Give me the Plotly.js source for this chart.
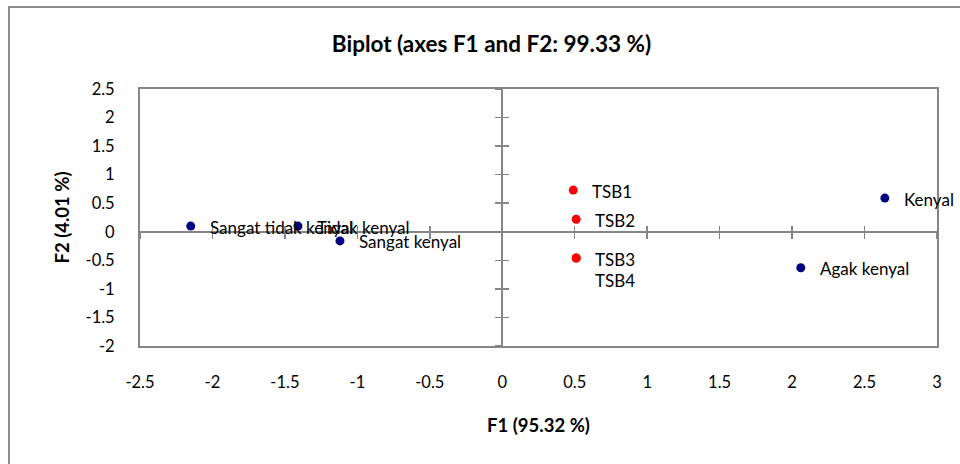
<!DOCTYPE html>
<html>
<head>
<meta charset="utf-8">
<script src="https://cdn.plot.ly/plotly-3.0.1.min.js"></script>
<style>
  html, body { margin: 0; padding: 0; background: #fff; }
  #frame { position: absolute; left: 8px; top: 6px; width: 960px; height: 470px;
           border-left: 2px solid #8c8c8c; border-top: 2px solid #8c8c8c; }
  #chart { position: absolute; left: 0; top: 0; width: 960px; height: 464px; }
</style>
</head>
<body>
<div id="frame"></div>
<div id="chart"></div>
<script>
// Variables (blue) and observations (red)
const varNames = ["Sangat tidak kenyal", "Tidak kenyal", "Sangat kenyal", "Kenyal", "Agak kenyal"];
const varF1 = [-2.15, -1.41, -1.12, 2.64, 2.06];
const varF2 = [0.10, 0.10, -0.16, 0.59, -0.63];

const obsNames = ["TSB1", "TSB2", "TSB3", "TSB4"];
const obsF1 = [0.49, 0.51, 0.51, 0.51];
const obsF2 = [0.73, 0.22, -0.46, -0.46];
// vertical label offset (px) so TSB4 label sits beneath TSB3 (same point)
const obsLabelShift = [0, 0, 0, -21];

const xTicks = [-2.5, -2, -1.5, -1, -0.5, 0, 0.5, 1, 1.5, 2, 2.5, 3];
const xTickText = ["-2.5", "-2", "-1.5", "-1", "-0.5", "0", "0.5", "1", "1.5", "2", "2.5", "3"];
const yTicks = [-2, -1.5, -1, -0.5, 0, 0.5, 1, 1.5, 2, 2.5];
const yTickText = ["-2", "-1.5", "-1", "-0.5", "0", "0.5", "1", "1.5", "2", "2.5"];

const xRange = [-2.5, 3];
const yRange = [-2, 2.5];

const FONT = "Lato, 'Open Sans', sans-serif";
const GRAY = "#868686";

const traces = [
  { x: varF1, y: varF2, type: "scatter", mode: "markers",
    marker: { color: "#000080", size: 9 }, hoverinfo: "text", text: varNames,
    xaxis: "x", yaxis: "y", showlegend: false },
  { x: obsF1, y: obsF2, type: "scatter", mode: "markers",
    marker: { color: "#ff0000", size: 9 }, hoverinfo: "text", text: obsNames,
    xaxis: "x", yaxis: "y", showlegend: false },
  { x: varF1, y: varF2, type: "scatter", mode: "markers", marker: { opacity: 0 },
    hoverinfo: "skip", xaxis: "x2", yaxis: "y2", showlegend: false },
  { x: varF1, y: varF2, type: "scatter", mode: "markers", marker: { opacity: 0 },
    hoverinfo: "skip", xaxis: "x3", yaxis: "y3", showlegend: false }
];

const LBL = 17;
const annotations = [];
varNames.forEach((n, i) => annotations.push({
  x: varF1[i], y: varF2[i], xref: "x", yref: "y", text: n, showarrow: false,
  xanchor: "left", yanchor: "middle", xshift: 17, yshift: -1,
  font: { family: FONT, size: LBL, color: "#000" }
}));
obsNames.forEach((n, i) => annotations.push({
  x: obsF1[i], y: obsF2[i], xref: "x", yref: "y", text: n, showarrow: false,
  xanchor: "left", yanchor: "middle", xshift: 17, yshift: obsLabelShift[i] - 1,
  font: { family: FONT, size: LBL, color: "#000" }
}));

const y0pos = (0 - yRange[0]) / (yRange[1] - yRange[0]);
const x0pos = (0 - xRange[0]) / (xRange[1] - xRange[0]);

const baseX = { range: xRange, tickvals: xTicks, showgrid: false, zeroline: false, fixedrange: true };
const baseY = { range: yRange, tickvals: yTicks, showgrid: false, zeroline: false, fixedrange: true };

const layout = {
  width: 960, height: 464,
  margin: { l: 140, r: 23, t: 89, b: 118 },
  paper_bgcolor: "rgba(0,0,0,0)", plot_bgcolor: "rgba(0,0,0,0)",
  font: { family: FONT, size: 16, color: "#000" },
  title: { text: "<b>Biplot (axes F1 and F2: 99.33 %)</b>", font: { family: FONT, size: 22.5, color: "#000" },
           x: 0.512, xanchor: "center", y: 0.905, yanchor: "middle" },
  showlegend: false,
  xaxis: Object.assign({}, baseX, {
    showline: true, mirror: true, linecolor: GRAY, linewidth: 2, ticks: "",
    ticktext: xTickText, tickfont: { family: FONT, size: 16.5 },
    ticklabelstandoff: 20,
    title: { text: "<b>F1 (95.32 %)</b>", font: { family: FONT, size: 18.5 }, standoff: 28 }
  }),
  yaxis: Object.assign({}, baseY, {
    showline: true, mirror: true, linecolor: GRAY, linewidth: 2, ticks: "",
    ticktext: yTickText, tickfont: { family: FONT, size: 16.5 }, ticklabelstandoff: 20,
    title: { text: "<b>F2 (4.01 %)</b>", font: { family: FONT, size: 18.5 }, standoff: 11 }
  }),
  xaxis2: Object.assign({}, baseX, {
    overlaying: "x", anchor: "free", position: y0pos, side: "bottom",
    showline: true, linecolor: GRAY, linewidth: 2, ticks: "outside", ticklen: 6,
    tickwidth: 1.5, tickcolor: GRAY, showticklabels: false
  }),
  yaxis2: Object.assign({}, baseY, {
    overlaying: "y", anchor: "free", position: x0pos, side: "left",
    showline: true, linecolor: GRAY, linewidth: 2, ticks: "outside", ticklen: 6,
    tickwidth: 1.5, tickcolor: GRAY, showticklabels: false
  }),
  xaxis3: Object.assign({}, baseX, {
    overlaying: "x", anchor: "free", position: y0pos, side: "bottom",
    showline: false, ticks: "inside", ticklen: 6,
    tickwidth: 1.5, tickcolor: GRAY, showticklabels: false
  }),
  yaxis3: Object.assign({}, baseY, {
    overlaying: "y", anchor: "free", position: x0pos, side: "left",
    showline: false, ticks: "inside", ticklen: 6,
    tickwidth: 1.5, tickcolor: GRAY, showticklabels: false
  }),
  annotations: annotations
};

Plotly.newPlot("chart", traces, layout, { displayModeBar: false, staticPlot: true });
</script>
</body>
</html>
